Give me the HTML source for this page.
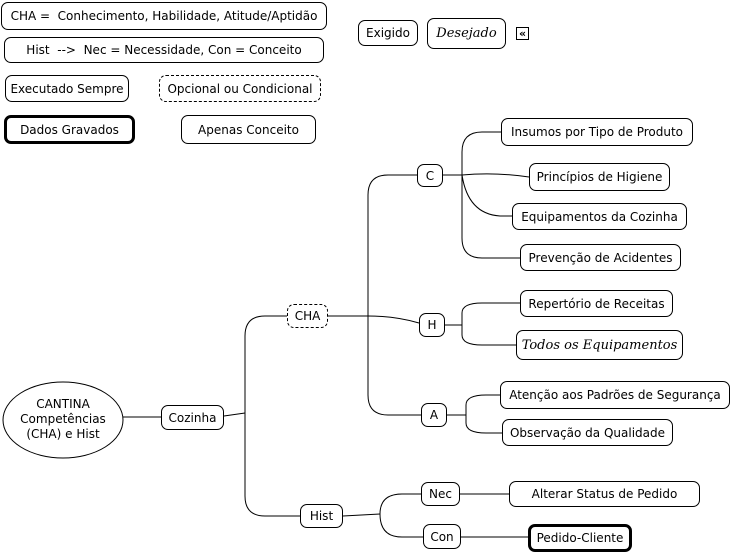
<!DOCTYPE html>
<html><head><meta charset="utf-8"><style>
body{margin:0;width:732px;height:555px;background:#fff;position:relative;overflow:hidden;font-family:"DejaVu Sans","Liberation Sans",sans-serif;font-size:12px;color:#000}
.b{position:absolute;box-sizing:border-box;border:1px solid #000;border-radius:7px;background:#fff;display:flex;align-items:center;justify-content:center;white-space:nowrap}
.d{border-style:dashed}
.t{border-width:3px}
.i{font-family:"DejaVu Serif","Liberation Serif",serif;font-style:italic;font-size:13px}
svg{position:absolute;left:0;top:0}
</style></head><body>
<svg width="732" height="555" fill="none" stroke="#000" stroke-width="1">
<ellipse cx="63" cy="420" rx="60" ry="38"/>
<path d="M123 417 H161"/>
<path d="M224 416 L245 413"/>
<path d="M245 413 V336 Q245 316 265 316 H287"/>
<path d="M245 413 V496 Q245 516 265 516 H300"/>
<path d="M328 316 H368 Q395 316 419 323"/>
<path d="M368 316 V195 Q368 175 388 175 H417"/>
<path d="M368 316 V395 Q368 415 388 415 H421"/>
<path d="M443 175 H462"/>
<path d="M462 175 V152 Q462 132 482 132 H501"/>
<path d="M462 175 Q495 172 529 177"/>
<path d="M462 175 Q468 214 500 216 H512"/>
<path d="M462 175 V238 Q462 258 482 258 H520"/>
<path d="M445 325 H462"/>
<path d="M462 325 V313 Q462 303 482 303 H520"/>
<path d="M462 325 V335 Q462 345 482 345 H516"/>
<path d="M447 415 H466"/>
<path d="M466 415 V405 Q466 395 486 395 H500"/>
<path d="M466 415 V423 Q466 433 486 433 H502"/>
<path d="M343 516 L380 514"/>
<path d="M380 514 Q380 494 402 494 H421"/>
<path d="M380 514 Q380 537 402 537 H423"/>
<path d="M460 494 H509"/>
<path d="M461 537 H528"/>
</svg>
<div style="position:absolute;left:3px;top:397px;width:120px;text-align:center;line-height:15px">CANTINA<br>Competências<br>(CHA) e Hist</div>
<div class="b" style="left:1px;top:2px;width:326px;height:28px">CHA =&nbsp; Conhecimento, Habilidade, Atitude/Aptidão</div>
<div class="b" style="left:4px;top:37px;width:320px;height:26px">Hist&nbsp; --&gt;&nbsp; Nec = Necessidade, Con = Conceito</div>
<div class="b" style="left:5px;top:75px;width:124px;height:27px">Executado Sempre</div>
<div class="b d" style="left:159px;top:75px;width:162px;height:27px">Opcional ou Condicional</div>
<div class="b t" style="left:4px;top:115px;width:131px;height:29px">Dados Gravados</div>
<div class="b" style="left:181px;top:115px;width:135px;height:29px">Apenas Conceito</div>
<div class="b" style="left:358px;top:20px;width:60px;height:26px">Exigido</div>
<div class="b i" style="left:427px;top:18px;width:79px;height:31px">Desejado</div>
<div style="position:absolute;left:516px;top:27px;width:11px;height:11px;border:1px solid #000;font-size:11px;line-height:11px;text-align:center;font-weight:bold">«</div>
<div class="b" style="left:161px;top:405px;width:63px;height:25px">Cozinha</div>
<div class="b d" style="left:287px;top:304px;width:41px;height:24px">CHA</div>
<div class="b" style="left:300px;top:504px;width:43px;height:24px">Hist</div>
<div class="b" style="left:417px;top:164px;width:26px;height:23px">C</div>
<div class="b" style="left:419px;top:313px;width:26px;height:24px">H</div>
<div class="b" style="left:421px;top:403px;width:26px;height:24px">A</div>
<div class="b" style="left:421px;top:482px;width:39px;height:24px">Nec</div>
<div class="b" style="left:423px;top:524px;width:38px;height:25px">Con</div>
<div class="b" style="left:501px;top:118px;width:192px;height:28px">Insumos por Tipo de Produto</div>
<div class="b" style="left:529px;top:163px;width:141px;height:28px">Princípios de Higiene</div>
<div class="b" style="left:512px;top:203px;width:175px;height:27px">Equipamentos da Cozinha</div>
<div class="b" style="left:520px;top:244px;width:161px;height:27px">Prevenção de Acidentes</div>
<div class="b" style="left:520px;top:290px;width:153px;height:27px">Repertório de Receitas</div>
<div class="b i" style="left:516px;top:330px;width:167px;height:30px">Todos os Equipamentos</div>
<div class="b" style="left:500px;top:381px;width:230px;height:28px">Atenção aos Padrões de Segurança</div>
<div class="b" style="left:502px;top:419px;width:171px;height:27px">Observação da Qualidade</div>
<div class="b" style="left:509px;top:481px;width:191px;height:26px">Alterar Status de Pedido</div>
<div class="b t" style="left:528px;top:524px;width:104px;height:28px">Pedido-Cliente</div>
</body></html>
